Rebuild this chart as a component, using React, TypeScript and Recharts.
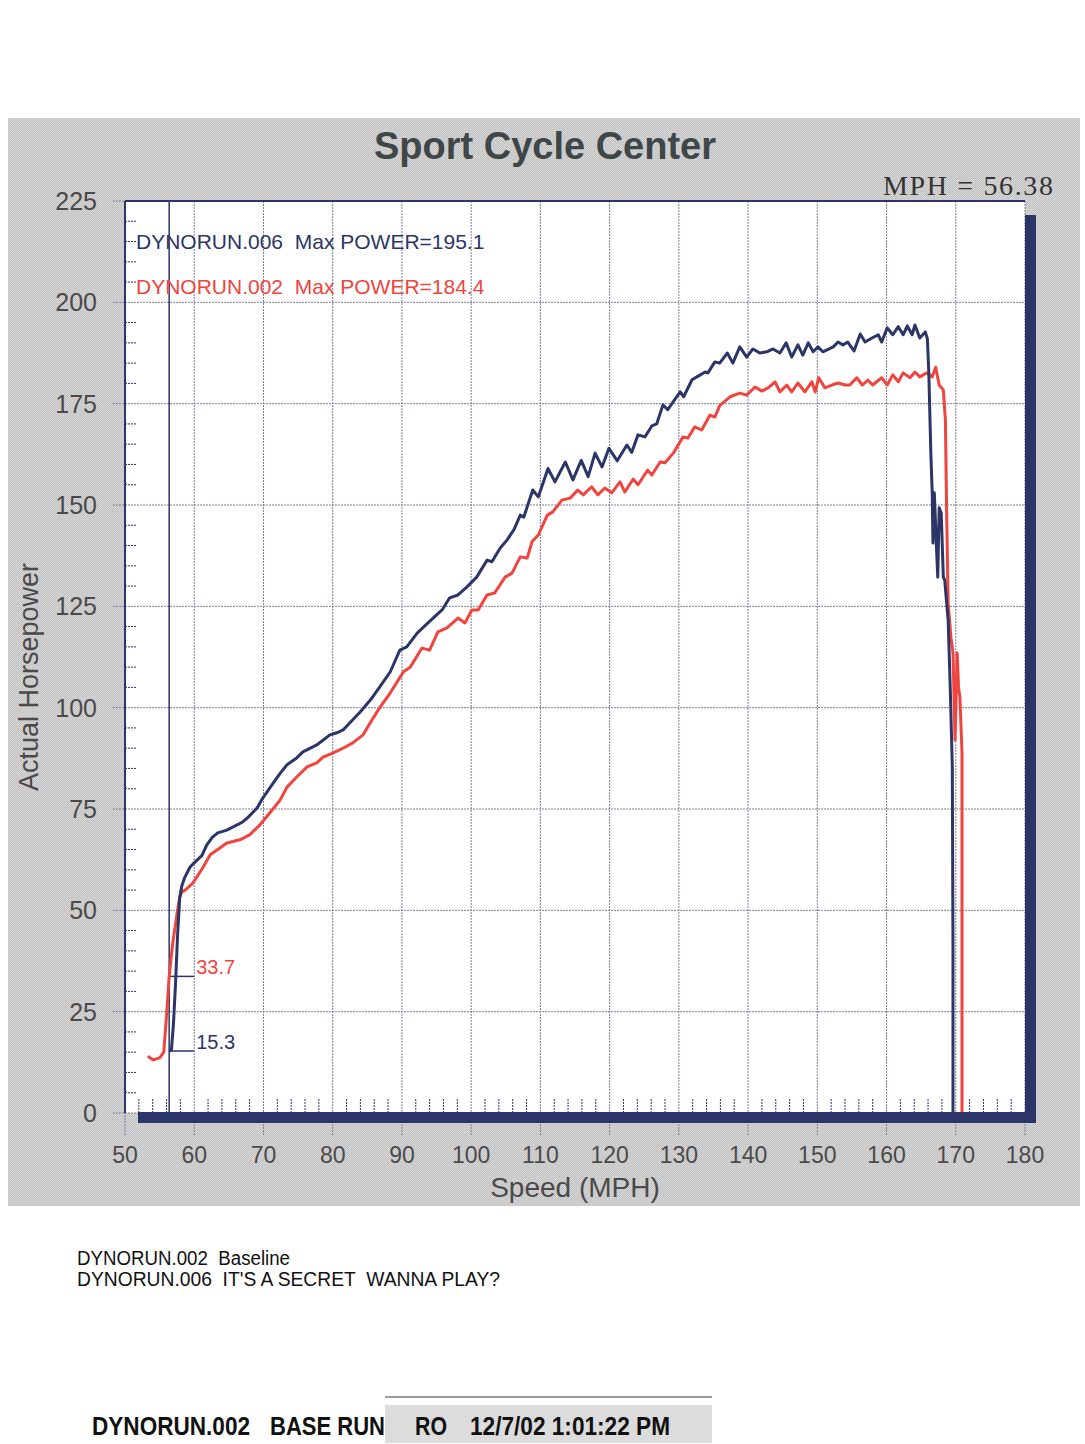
import React from 'react';
import {
  CartesianGrid,
  Line,
  LineChart,
  ReferenceDot,
  ReferenceLine,
  XAxis,
  YAxis,
} from 'recharts';

// ticks
const xTicks = [50, 60, 70, 80, 90, 100, 110, 120, 130, 140, 150, 160, 170, 180];
const yTicks = [0, 25, 50, 75, 100, 125, 150, 175, 200, 225];
const xMinorTicks = [
  52, 54, 56, 58, 62, 64, 66, 68, 72, 74, 76, 78, 82, 84, 86, 88, 92, 94, 96, 98,
  102, 104, 106, 108, 112, 114, 116, 118, 122, 124, 126, 128, 132, 134, 136, 138,
  142, 144, 146, 148, 152, 154, 156, 158, 162, 164, 166, 168, 172, 174, 176, 178,
];
const yMinorTicks = [
  5, 10, 15, 20, 30, 35, 40, 45, 55, 60, 65, 70, 80, 85, 90, 95, 105, 110, 115, 120,
  130, 135, 140, 145, 155, 160, 165, 170, 180, 185, 190, 195, 205, 210, 215, 220,
];

// DYNORUN.006 (blue) [mph, hp]
const run006: [number, number][] = [
  [56.38, 15.3], [56.7, 15.5], [57.0, 22], [57.3, 32], [57.6, 44], [57.9, 53], [58.2, 56],
  [58.6, 58], [59.4, 60.7], [60.4, 62.4], [61.1, 63.5], [61.8, 66.1], [62.6, 68], [63.4, 69.1],
  [64.7, 69.8], [66.2, 71.1], [67.0, 71.8], [67.8, 73], [69.1, 75.3], [69.9, 77.7], [71.4, 81.4],
  [72.4, 83.8], [73.4, 85.9], [74.8, 87.6], [75.7, 89.1], [77.7, 90.8], [79.6, 93.3], [80.6, 93.8],
  [81.5, 94.5], [82.9, 97], [84.0, 99], [85.5, 102], [86.8, 105.1], [88.3, 108.8], [89.7, 114.2],
  [90.7, 115], [92.2, 118.4], [93.0, 119.7], [94.5, 122.1], [95.8, 124.1], [96.9, 127.1],
  [98.1, 127.8], [99.4, 129.8], [100.8, 132.2], [102.3, 136.4], [103.0, 136], [104.2, 139.4],
  [105.2, 141.4], [106.2, 144], [107.1, 147.5], [107.6, 147], [108.9, 153.7], [109.7, 152],
  [111.1, 159], [112.1, 155.7], [113.6, 160.6], [114.7, 156.2], [115.9, 161], [116.9, 157],
  [117.9, 162.8], [118.9, 159.4], [119.9, 164], [121.1, 160.9], [122.5, 164.8], [123.2, 163],
  [124.1, 167.3], [125.1, 166.8], [126.1, 169.5], [126.8, 170], [127.7, 174.7], [128.4, 173.5],
  [129.4, 176], [130.2, 177.9], [130.7, 176.7], [131.9, 180.9], [133.1, 182.1], [133.8, 182.8],
  [134.2, 182.6], [135.2, 185.3], [135.9, 185], [137.0, 187.5], [137.8, 185], [138.8, 189],
  [139.8, 186.5], [140.7, 188.5], [141.7, 187.5], [142.7, 187.8], [143.6, 188.5], [144.6, 187.5],
  [145.5, 190], [146.3, 186.5], [147.2, 189.5], [147.9, 187], [148.7, 190], [149.4, 187.8],
  [150.1, 189], [150.8, 187.8], [152.3, 189], [153.0, 190.2], [153.7, 189.5], [154.4, 190.2],
  [155.3, 188], [156.2, 192.2], [156.9, 190.2], [157.9, 191.2], [158.8, 192], [159.3, 190.2],
  [160.1, 193.7], [160.9, 192], [161.7, 194], [162.4, 192], [163.0, 194.2], [163.7, 192],
  [164.1, 194.4], [164.8, 191.2], [165.6, 192.7], [165.9, 191], [166.1, 183], [166.4, 162.8],
  [166.6, 153], [166.7, 140.6], [166.9, 153], [167.2, 140], [167.4, 132.2], [167.6, 149.3],
  [167.9, 148], [168.2, 132.2], [168.4, 131.5], [168.9, 121.6], [169.2, 105], [169.5, 85.4],
  [169.6, 40], [169.6, 0],
];

// DYNORUN.002 (red) [mph, hp]
const run002: [number, number][] = [
  [53.3, 14], [53.7, 13.5], [54.1, 13.1], [55.0, 13.6], [55.6, 15], [56.0, 24], [56.38, 33.7],
  [56.9, 42], [57.5, 49], [57.9, 53.3], [58.2, 54.5], [58.7, 55], [59.8, 56.7], [61.3, 60.7],
  [62.3, 63.7], [63.7, 65.4], [64.7, 66.6], [66.6, 67.4], [68.0, 68.6], [69.5, 71.1], [70.9, 74],
  [72.4, 77.2], [73.4, 80.4], [74.8, 82.9], [76.3, 85.4], [77.7, 86.4], [78.6, 87.8], [80.0, 88.8],
  [81.5, 90], [82.9, 91.3], [84.4, 93.3], [85.4, 96.2], [86.8, 100], [88.3, 103.6], [90.2, 108.8],
  [91.2, 110], [92.9, 114.7], [94.0, 114.2], [95.2, 118.7], [96.5, 119.7], [98.1, 122.1],
  [99.1, 120.9], [100.1, 124.1], [101.0, 124.1], [102.3, 127.8], [103.4, 128.3], [104.9, 132.2],
  [105.9, 133.2], [107.1, 137.2], [108.1, 136.9], [108.8, 141], [109.7, 142.6], [111.0, 147.5],
  [111.8, 148.3], [113.1, 151.2], [114.3, 151.7], [115.4, 153.7], [116.2, 152.5], [117.4, 154.5],
  [118.3, 152.5], [119.3, 154.2], [120.3, 153], [121.5, 155.7], [122.2, 153.2], [123.4, 156.4],
  [124.1, 155], [125.5, 158.6], [126.1, 157.4], [127.3, 160.6], [128.0, 160.4], [129.2, 162.8],
  [130.6, 166.8], [131.3, 166.5], [132.3, 169.3], [133.3, 168.5], [134.5, 172.2], [135.2, 171.7],
  [135.9, 174.5], [137.4, 176.7], [138.8, 177.6], [139.8, 177.1], [141.0, 179.1], [142.0, 178.1],
  [142.9, 178.9], [143.9, 180.4], [144.6, 177.9], [145.6, 179.6], [146.3, 177.9], [147.2, 180.1],
  [148.2, 177.9], [149.2, 180.4], [149.7, 177.9], [150.2, 181.4], [151.1, 178.9], [152.1, 179.6],
  [153.0, 180.1], [154.0, 179.6], [154.7, 179.6], [155.7, 181.4], [156.5, 179.6], [157.3, 180.8],
  [158.0, 179.6], [159.3, 181.4], [160.1, 179.6], [160.9, 182.1], [161.7, 180.4], [162.4, 182.6],
  [163.4, 181.4], [164.1, 182.8], [164.8, 181.6], [165.8, 182.6], [166.6, 181.6], [167.1, 184],
  [167.6, 179.6], [168.2, 178.4], [168.5, 171], [168.7, 146.3], [168.9, 125.8], [169.3, 117.4],
  [169.6, 113.5], [169.9, 92], [170.2, 113.5], [170.4, 105], [170.6, 102.6], [170.9, 88.8],
  [170.9, 0],
];

const markerMph = 56.38;

const NAVY = '#2c3567';
const RED = '#f0443e';
const GRID = '#7b8098';
const FONT = 'Arial, "Liberation Sans", sans-serif';

const blueData = run006.map(([mph, hp]) => ({ mph, hp }));
const redData = run002.map(([mph, hp]) => ({ mph, hp }));

export default function App() {
  return (
    <div style={{ position: 'absolute', left: 0, top: 0, width: 1085, height: 1444, background: '#fff', fontFamily: FONT }}>
      {/* gray panel */}
      <div
        style={{
          position: 'absolute',
          left: 8,
          top: 118,
          width: 1072,
          height: 1088,
          background: 'repeating-conic-gradient(#c3c3c3 0% 25%, #d5d5d5 0% 50%) 0 0 / 2px 2px',
        }}
      />
      <div style={{ position: 'absolute', left: 0, top: 0 }}>
        <LineChart width={1085} height={1444} margin={{ top: 201, right: 60, bottom: 241, left: 65 }}>
          <CartesianGrid fill="#fff" stroke={GRID} strokeDasharray="2 1" />
          <XAxis
            type="number"
            dataKey="mph"
            domain={[50, 180]}
            ticks={xTicks}
            interval={0}
            height={90}
            axisLine={false}
            tickSize={22}
            tickMargin={12}
            tickLine={{ stroke: GRID, strokeDasharray: '2 1' }}
            tick={{ fill: '#4a4a4a', fontSize: 23, fontFamily: FONT }}
            label={{ value: 'Speed (MPH)', position: 'insideBottom', offset: 6, fill: '#4a4a4a', fontSize: 28, fontFamily: FONT }}
          />
          <YAxis
            type="number"
            domain={[0, 225]}
            ticks={yTicks}
            interval={0}
            width={60}
            axisLine={{ stroke: NAVY, strokeWidth: 2 }}
            tickSize={12}
            tickMargin={16}
            tickLine={{ stroke: GRID, strokeDasharray: '2 1' }}
            tick={{ fill: '#4a4a4a', fontSize: 25, fontFamily: FONT }}
          />
          {/* minor ticks inside the plot */}
          {yMinorTicks.map((v) => (
            <ReferenceLine
              key={`ym${v}`}
              segment={[{ x: 50, y: v }, { x: 51.7, y: v }]}
              stroke={NAVY}
              strokeDasharray="2 1"
            />
          ))}
          {xMinorTicks.map((v) => (
            <ReferenceLine
              key={`xm${v}`}
              segment={[{ x: v, y: 0 }, { x: v, y: 3.6 }]}
              stroke={NAVY}
              strokeDasharray="2 1"
            />
          ))}
          <ReferenceLine y={225} stroke={NAVY} strokeWidth={2} />
          <ReferenceLine x={markerMph} stroke={NAVY} strokeWidth={1.5} />
          <ReferenceLine segment={[{ x: markerMph, y: 33.7 }, { x: 60, y: 33.7 }]} stroke={NAVY} strokeWidth={1.5} />
          <ReferenceLine segment={[{ x: markerMph, y: 15.3 }, { x: 60, y: 15.3 }]} stroke={NAVY} strokeWidth={1.5} />
          <ReferenceDot
            x={60}
            y={33.7}
            r={1}
            fill="none"
            stroke="none"
            label={{ value: '33.7', position: 'insideBottomLeft', offset: 3, fill: RED, fontSize: 20, fontFamily: FONT }}
          />
          <ReferenceDot
            x={60}
            y={15.3}
            r={1}
            fill="none"
            stroke="none"
            label={{ value: '15.3', position: 'insideBottomLeft', offset: 3, fill: NAVY, fontSize: 20, fontFamily: FONT }}
          />
          <Line
            data={redData}
            dataKey="hp"
            type="linear"
            stroke={RED}
            strokeWidth={3}
            dot={false}
            strokeLinejoin="round"
            isAnimationActive={false}
          />
          <Line
            data={blueData}
            dataKey="hp"
            type="linear"
            stroke={NAVY}
            strokeWidth={3}
            dot={false}
            strokeLinejoin="round"
            isAnimationActive={false}
          />
        </LineChart>
      </div>
      <svg
        width={1085}
        height={1444}
        style={{ position: 'absolute', left: 0, top: 0, pointerEvents: 'none' }}
        fontFamily={FONT}
      >
        {/* shadow bars */}
        <rect x={138} y={1112} width={898} height={11} fill={NAVY} />
        <rect x={1025} y={215} width={11} height={908} fill={NAVY} />

        <text x={545} y={159} textAnchor="middle" fontSize={38} fontWeight="bold" fill="#3f4648">
          Sport Cycle Center
        </text>
        <text
          x={883}
          y={195}
          fontSize={28}
          fill="#333"
          fontFamily='"Times New Roman", "Liberation Serif", serif'
          textLength={170}
          lengthAdjust="spacing"
        >
          MPH = 56.38
        </text>
        <text transform="translate(38,677) rotate(-90)" textAnchor="middle" fontSize={27} fill="#4a4a4a">
          Actual Horsepower
        </text>

        <text x={136} y={249} fontSize={21} fill={NAVY} style={{ whiteSpace: 'pre' }}>
          DYNORUN.006  Max POWER=195.1
        </text>
        <text x={136} y={294} fontSize={21} fill={RED} style={{ whiteSpace: 'pre' }}>
          DYNORUN.002  Max POWER=184.4
        </text>

        <text x={77} y={1265} fontSize={20} fill="#111" textLength={213} lengthAdjust="spacingAndGlyphs" style={{ whiteSpace: 'pre' }}>
          DYNORUN.002  Baseline
        </text>
        <text x={77} y={1286} fontSize={20} fill="#111" textLength={423} lengthAdjust="spacingAndGlyphs" style={{ whiteSpace: 'pre' }}>
          DYNORUN.006  IT'S A SECRET  WANNA PLAY?
        </text>

        <line x1={385} y1={1397} x2={712} y2={1397} stroke="#9a9a9a" strokeWidth={2} />
        <rect x={385} y={1405} width={327} height={38} fill="#dcdcdc" />
        <g fontSize={25} fontWeight="bold" fill="#111">
          <text x={92} y={1435} textLength={158} lengthAdjust="spacingAndGlyphs">DYNORUN.002</text>
          <text x={270} y={1435} textLength={115} lengthAdjust="spacingAndGlyphs">BASE RUN</text>
          <text x={415} y={1435} textLength={32} lengthAdjust="spacingAndGlyphs">RO</text>
          <text x={470} y={1435} textLength={200} lengthAdjust="spacingAndGlyphs">12/7/02 1:01:22 PM</text>
        </g>
      </svg>
    </div>
  );
}
